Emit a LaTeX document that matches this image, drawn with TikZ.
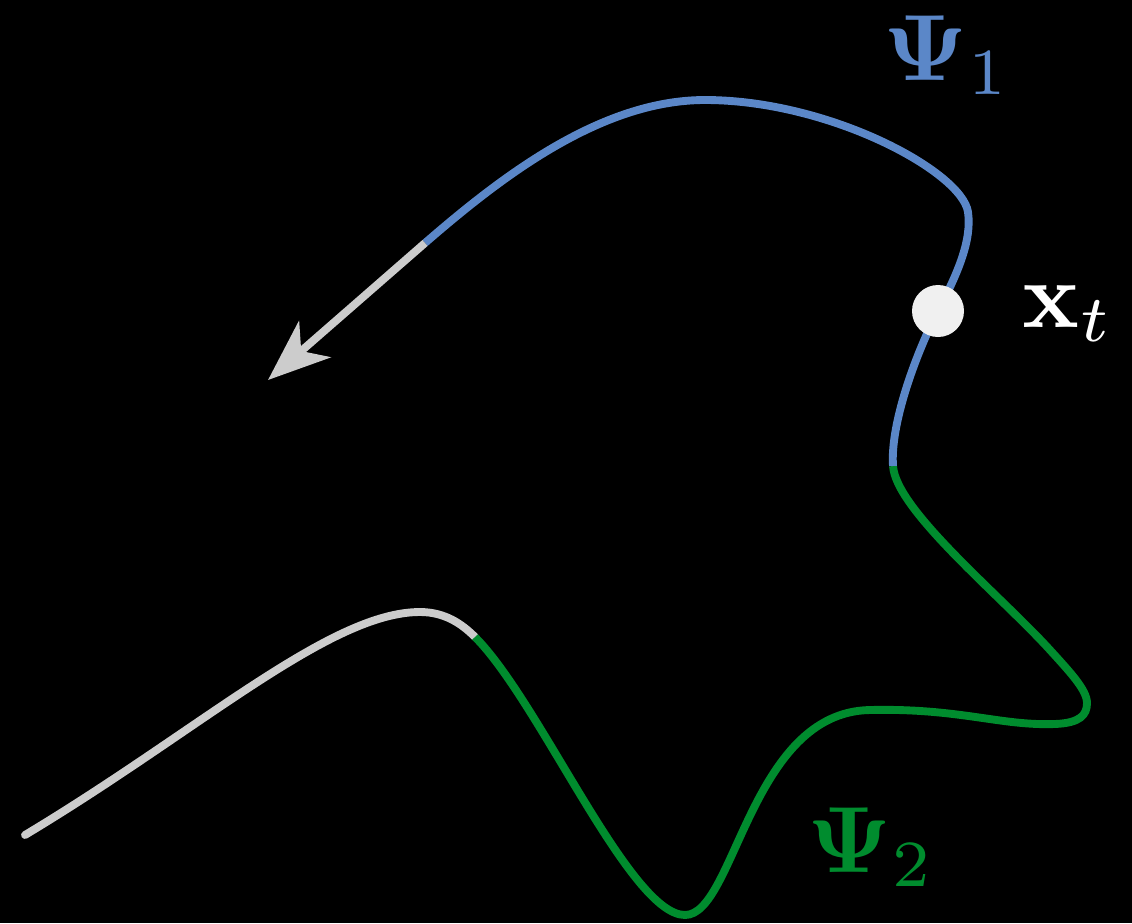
\documentclass[tikz,border=0pt]{standalone}
\usepackage{amsmath,amssymb,bm}
\usepackage{tikz}
\usetikzlibrary{arrows.meta,positioning}

\definecolor{psiblue}{RGB}{91,135,200}
\definecolor{psigreen}{RGB}{0,140,46}
\definecolor{pathgray}{RGB}{204,204,204}
\definecolor{dotwhite}{RGB}{240,240,240}

\begin{document}
\begin{tikzpicture}[x=0.025cm,y=-0.025cm,>=Stealth,
  trace/.style={line width=5.6pt},
  label/.style={inner sep=0pt,anchor=base west,scale=6.7}]
\fill[black] (0,0) rectangle (1132,923);
\useasboundingbox (0,0) rectangle (1132,923);
% points along the trajectory
\coordinate (s) at (25,835);
\coordinate (pk) at (420,612);
\coordinate (g0) at (475,637);
\coordinate (bot) at (685,915);
\coordinate (fl) at (870,710);
\coordinate (fr) at (1055,724);
\coordinate (rt) at (1087,703);
\coordinate (dg) at (1050,650);
\coordinate (gb) at (893,466);
\coordinate (xt) at (938,311);
\coordinate (rb) at (968,212);
\coordinate (tp) at (705,100);
\coordinate (bg) at (425,243);
\coordinate (tip) at (268,380);
% past part
\draw[trace,pathgray,line cap=round] (s) .. controls (200,730) and (330,612) .. (pk)
  .. controls (445,612) and (462,624) .. (g0);
% second branch
\draw[trace,psigreen] (g0) .. controls (540,702) and (630,915) .. (bot)
  .. controls (735,915) and (750,712) .. (fl)
  .. controls (960,708) and (1000,726) .. (fr)
  .. controls (1080,723) and (1087,715) .. (rt)
  .. controls (1087,690) and (1070,672) .. (dg)
  .. controls (1000,595) and (896,510) .. (gb);
% first branch
\draw[trace,psiblue] (gb) .. controls (890,422) and (918,349) .. (xt)
  .. controls (958,273) and (972,240) .. (rb)
  .. controls (962,172) and (830,100) .. (tp)
  .. controls (600,100) and (500,178) .. (bg);
\draw[trace,pathgray,arrows={-Stealth[length=1.55cm,width=1.2cm,inset=0.45cm]}] (bg) -- (tip);
\node[circle,fill=dotwhite,minimum size=1.3cm,inner sep=0pt] (dot) at (xt) {};
\node[label,text=psiblue] (psi1) at (882,80) {$\boldsymbol{\Psi}_1$};
\node[label,text=white] (xlab) at (1021,327) {$\mathbf{x}_t$};
\node[label,text=psigreen] (psi2) at (806,872) {$\boldsymbol{\Psi}_2$};
\end{tikzpicture}
\end{document}
